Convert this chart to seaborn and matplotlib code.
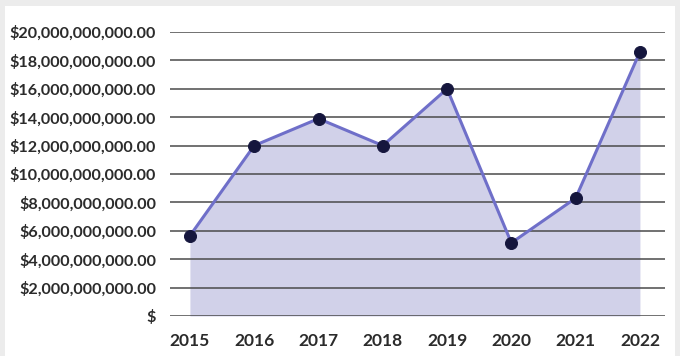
import matplotlib
matplotlib.use("Agg")
import matplotlib.pyplot as plt
from matplotlib.patches import Rectangle
from matplotlib.ticker import FuncFormatter, MultipleLocator
import seaborn as sns
import pandas as pd

years = ["2015", "2016", "2017", "2018", "2019", "2020", "2021", "2022"]
values = [5.65e9, 12.0e9, 13.9e9, 12.0e9, 16.0e9, 5.15e9, 8.3e9, 18.6e9]

df = pd.DataFrame({"year": years, "value": values, "pos": range(len(years))})

sns.set_style("white")
plt.rcParams["font.family"] = ["Lato", "DejaVu Sans"]

fig = plt.figure(figsize=(6.8, 3.56), dpi=100, facecolor="#ececec")
fig.patches.append(Rectangle((5 / 680, 0), 670 / 680, 350 / 356,
                             transform=fig.transFigure, facecolor="white",
                             edgecolor="none", zorder=-10))
ax = fig.add_axes([170 / 680, 1 - 316 / 356, 495 / 680, 284 / 356])
ax.set_facecolor("none")

ax.fill_between(df["pos"], df["value"], 0, color="#cfcfe8", alpha=0.95,
                linewidth=0, zorder=1)
sns.lineplot(data=df, x="pos", y="value", ax=ax, color="#6f6fc9",
             linewidth=2.2, zorder=3, legend=False)
sns.scatterplot(data=df, x="pos", y="value", ax=ax, color="#15163d",
                s=75, edgecolor="#15163d", zorder=4, legend=False)

ax.set_xlim(-0.31, 7.39)
ax.set_ylim(0, 20e9)
ax.yaxis.set_major_locator(MultipleLocator(2e9))
ax.yaxis.set_major_formatter(FuncFormatter(
    lambda v, _: "$" if abs(v) < 1 else f"${v:,.2f}"))
ax.set_xticks(range(len(years)))
ax.set_xticklabels(years)
ax.grid(axis="y", color="#4a4a4a", linewidth=1.1, zorder=2)
ax.set_axisbelow(False)
for s in ax.spines.values():
    s.set_visible(False)
ax.tick_params(axis="both", length=0, colors="#2b2b2b")
ax.tick_params(axis="y", pad=10, labelsize=11.6)
ax.tick_params(axis="x", pad=12, labelsize=12.5)
for lbl in ax.get_xticklabels() + ax.get_yticklabels():
    lbl.set_fontweight("bold")
ax.set_xlabel("")
ax.set_ylabel("")

fig.savefig("out.png", dpi=100, facecolor=fig.get_facecolor())
